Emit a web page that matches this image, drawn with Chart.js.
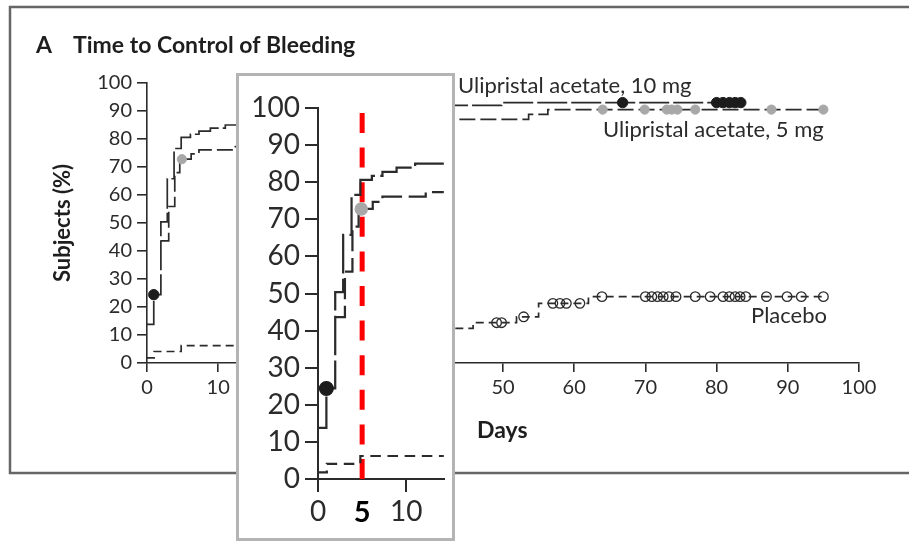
<!DOCTYPE html>
<html lang="en">
  <head>
    <meta charset="utf-8" />
    <title>Time to Control of Bleeding</title>
    <style>
      * {
        margin: 0;
        padding: 0;
      }
      body {
        width: 909px;
        height: 542px;
        position: relative;
        overflow: hidden;
        background: #fff;
      }
      #mainChart {
        position: absolute;
        left: 0;
        top: 0;
      }
      .zoomBox {
        position: absolute;
        left: 236px;
        top: 73px;
        width: 219px;
        height: 468px;
        box-sizing: border-box;
        border: 3px solid #b4b4b4;
        background: #fff;
      }
      #zoomChart {
        display: block;
      }
    </style>
  </head>
  <body>
    <canvas id="mainChart" width="909" height="542"></canvas>
    <div class="zoomBox">
      <canvas id="zoomChart" width="213" height="462"></canvas>
    </div>

    <script src="https://cdn.jsdelivr.net/npm/chart.js@4/dist/chart.umd.min.js"></script>

    <script>
      // data block
      const mainDayTicks = [0, 10, 20, 30, 40, 50, 60, 70, 80, 90, 100];
      const pctTicks = [0, 10, 20, 30, 40, 50, 60, 70, 80, 90, 100];
      const zoomDayTicks = [0, 5, 10];
      const cutoffDay = 5;

      // Ulipristal acetate, 10 mg
      const days10 = [0, 0.95, 1.95, 2.85, 3.8, 4.8, 6.1, 7.3, 8.9, 11.0, 28, 49.8, 83.4];
      const pct10 = [13.8, 24.4, 50.4, 65.8, 76.6, 80.6, 81.7, 82.8, 83.9, 85.0, 92.0, 93.0, 93.0];
      const censor10Days = [0.95, 66.8, 80.0, 80.9, 81.8, 82.6, 83.4];
      const censor10Pct = [24.4, 93, 93, 93, 93, 93, 93];

      // Ulipristal acetate, 5 mg
      const days5 = [1.95, 3.05, 3.9, 4.6, 6.2, 7.3, 12.2, 30, 53.6, 56.3, 95];
      const pct5 = [43.6, 55.9, 68.0, 72.8, 74.7, 76.1, 77.3, 87.0, 88.8, 90.5, 90.5];
      const censor5Days = [4.9, 64.0, 69.9, 73.0, 73.7, 74.5, 77.0, 87.7, 95.0];
      const censor5Pct = [72.8, 90.5, 90.5, 90.5, 90.5, 90.5, 90.5, 90.5, 90.5];

      // Placebo
      const daysP = [0, 1.0, 4.8, 30, 45.8, 51.9, 55.0, 62.0, 95];
      const pctP = [1.8, 4.1, 6.2, 12.4, 14.4, 16.5, 21.3, 23.7, 23.7];
      const censorPDays = [49.1, 49.8, 52.9, 57.0, 58.0, 58.9, 60.8, 63.9, 70.0, 70.9, 71.7, 72.5, 73.3, 74.3, 77.0, 79.1, 80.9, 81.8, 82.6, 83.3, 84.1, 87.0, 89.9, 91.9, 95.0];
      const censorPPct = [14.4, 14.4, 16.5, 21.3, 21.3, 21.3, 21.3, 23.7, 23.7, 23.7, 23.7, 23.7, 23.7, 23.7, 23.7, 23.7, 23.7, 23.7, 23.7, 23.7, 23.7, 23.7, 23.7, 23.7, 23.7];

      const ink = "#2b2b2b";
      const family = 'Lato, "Open Sans", sans-serif';

      // datasets, k scales line widths / dashes / dots for the zoomed copy
      function seriesSets(k) {
        const pts = (xs, ys) => xs.map((x, i) => ({ x: x, y: ys[i] }));
        const marks = (xs, ys, r, fill, edge, w) => ({
          data: pts(xs, ys),
          showLine: false,
          pointRadius: r * k,
          pointBackgroundColor: fill,
          pointBorderColor: edge,
          pointBorderWidth: w * k,
        });
        const curve = (xs, ys, dash) => ({
          data: pts(xs, ys),
          stepped: true,
          borderColor: ink,
          borderWidth: 1.7 * k,
          borderDash: dash.map((d) => d * k),
          pointRadius: 0,
          fill: false,
        });
        return [
          marks(censor10Days, censor10Pct, 5.2, "#1c1c1c", "#1c1c1c", 1),
          marks(censor5Days, censor5Pct, 4.6, "#a8a8a8", "#a8a8a8", 1),
          marks(censorPDays, censorPPct, 4.8, "rgba(0,0,0,0)", ink, 1.3),
          curve(days10, pct10, [30, 4]),
          curve(days5, pct5, [16, 5]),
          curve(daysP, pctP, [8, 5]),
        ];
      }

      function axis(opts) {
        return {
          type: "linear",
          min: opts.min,
          max: opts.max,
          afterBuildTicks: (s) => {
            s.ticks = opts.ticks.map((v) => ({ value: v }));
          },
          afterFit: opts.fit,
          border: { color: ink, width: opts.w },
          grid: {
            drawOnChartArea: false,
            drawTicks: true,
            tickLength: opts.tick,
            lineWidth: opts.w,
            color: ink,
            tickColor: opts.tickColor || ink,
          },
          ticks: {
            autoSkip: false,
            maxRotation: 0,
            padding: opts.pad,
            color: opts.color || ink,
            font: opts.font,
          },
        };
      }

      // frame and texts of the main panel
      const panelText = {
        id: "panelText",
        beforeDraw(chart) {
          const c = chart.ctx;
          c.save();
          c.strokeStyle = "#666";
          c.lineWidth = 2.5;
          c.strokeRect(10, 7, 940, 466);
          c.restore();
        },
        afterDraw(chart) {
          const c = chart.ctx;
          c.save();
          c.fillStyle = "#1e1e1e";
          c.textBaseline = "alphabetic";
          c.font = "bold 23px " + family;
          c.fillText("A", 36, 53);
          c.fillText("Time to Control of Bleeding", 73, 53);
          c.font = "bold 23px " + family;
          c.fillText("Days", 477, 438);
          c.save();
          c.translate(70, 223);
          c.rotate(-Math.PI / 2);
          c.textAlign = "center";
          c.font = "bold 22px " + family;
          c.fillText("Subjects (%)", 0, 0);
          c.restore();
          c.fillStyle = ink;
          c.font = "22px " + family;
          c.fillText("Ulipristal acetate, 10 mg", 458, 93);
          c.fillText("Ulipristal acetate, 5 mg", 603, 137);
          c.fillText("Placebo", 751, 323);
          c.restore();
        },
      };

      // red dashed cut-off line of the zoomed copy
      const cutoffLine = {
        id: "cutoffLine",
        beforeDatasetsDraw(chart) {
          const c = chart.ctx;
          const x = chart.scales.x;
          const y = chart.scales.y;
          const px = x.getPixelForValue(cutoffDay);
          c.save();
          c.strokeStyle = "#ff0000";
          c.lineWidth = 5;
          c.setLineDash([20, 14.6]);
          c.beginPath();
          c.moveTo(px, y.getPixelForValue(0));
          c.lineTo(px, y.getPixelForValue(99));
          c.stroke();
          c.restore();
        },
      };

      const common = {
        responsive: false,
        animation: false,
        events: [],
        devicePixelRatio: 1,
        plugins: { legend: { display: false }, tooltip: { enabled: false } },
      };

      // init render block
      const mainChart = new Chart(document.getElementById("mainChart"), {
        type: "line",
        data: { datasets: seriesSets(1) },
        options: Object.assign({}, common, {
          layout: { padding: { left: 87, right: 50, top: 83, bottom: 139 } },
          scales: {
            x: axis({
              min: 0, max: 100, ticks: mainDayTicks, tick: 9, pad: 4, w: 1.6,
              font: { family: family, size: 20 },
              fit: (s) => { s.height = 40; },
            }),
            y: axis({
              min: 0, max: 100, ticks: pctTicks, tick: 10, pad: 5, w: 1.6,
              font: { family: family, size: 20 },
              fit: (s) => { s.width = 60; },
            }),
          },
        }),
        plugins: [panelText],
      });

      const isCut = (ctx) => ctx.tick && ctx.tick.value === cutoffDay;
      const zoomChart = new Chart(document.getElementById("zoomChart"), {
        type: "line",
        data: { datasets: seriesSets(1.32) },
        options: Object.assign({}, common, {
          layout: { padding: { left: 0, right: 0, top: 32, bottom: 0 } },
          scales: {
            x: axis({
              min: 0, max: 14.25, ticks: zoomDayTicks, tick: 13, pad: 3, w: 2,
              font: (ctx) => isCut(ctx)
                ? { family: family, size: 29, weight: "bold" }
                : { family: family, size: 28 },
              color: (ctx) => (isCut(ctx) ? "#000" : ink),
              tickColor: (ctx) => (isCut(ctx) ? "rgba(0,0,0,0)" : ink),
              fit: (s) => { s.height = 59; },
            }),
            y: axis({
              min: 0, max: 100, ticks: pctTicks, tick: 13, pad: 5, w: 2,
              font: { family: family, size: 28 },
              fit: (s) => { s.width = 79; },
            }),
          },
        }),
        plugins: [cutoffLine],
      });
    </script>
  </body>
</html>
